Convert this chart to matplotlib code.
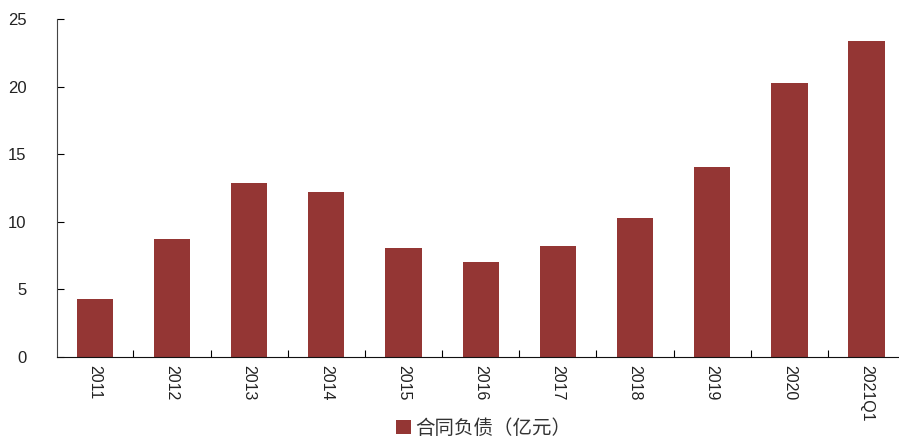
import matplotlib.pyplot as plt
from matplotlib.patches import Patch
from matplotlib.ticker import FixedLocator

plt.rcParams['font.family'] = ['Liberation Sans', 'Noto Sans CJK SC', 'DejaVu Sans']

# data
years  = ["2011", "2012", "2013", "2014", "2015", "2016",
          "2017", "2018", "2019", "2020", "2021Q1"]
values = [4.3, 8.7, 12.9, 12.2, 8.05, 7.0, 8.2, 10.3, 14.05, 20.3, 23.4]
series_name = "合同负债（亿元）"

bar_color = "#943634"

fig = plt.figure(figsize=(8.99, 4.4), dpi=100)
ax = fig.add_axes([0.0634, 0.1886, 0.9366, 0.7682])

x = list(range(len(years)))
ax.bar(x, values, width=0.47, color=bar_color, zorder=2)

ax.set_xlim(-0.49, len(years) - 0.58)
ax.set_ylim(0, 25)
ax.set_yticks([0, 5, 10, 15, 20, 25])

ax.set_xticks(x)
ax.set_xticklabels(years, rotation=270, fontsize=11.5, color="#222222")
ax.tick_params(axis='x', which='major', length=0, pad=6)
ax.xaxis.set_minor_locator(FixedLocator([i + 0.5 for i in x[:-1]]))
ax.tick_params(axis='x', which='minor', direction='in', length=5, width=0.8)
ax.tick_params(axis='y', direction='in', length=5, width=0.8,
               labelsize=12, pad=22, labelcolor="#222222")

for side in ['top', 'right']:
    ax.spines[side].set_visible(False)
ax.spines['left'].set_color("#444444")
ax.spines['bottom'].set_color("#111111")
ax.spines['bottom'].set_zorder(3)

handle = Patch(facecolor=bar_color, edgecolor='none')
fig.legend([handle], [series_name], loc='center',
           bbox_to_anchor=(0.538, 1 - 428 / 440), frameon=False,
           prop={'family': ['Noto Sans CJK SC', 'DejaVu Sans'], 'size': 14},
           labelcolor="#333333",
           handlelength=0.75, handleheight=0.75, handletextpad=0.2)

plt.savefig("out.png", dpi=100)
